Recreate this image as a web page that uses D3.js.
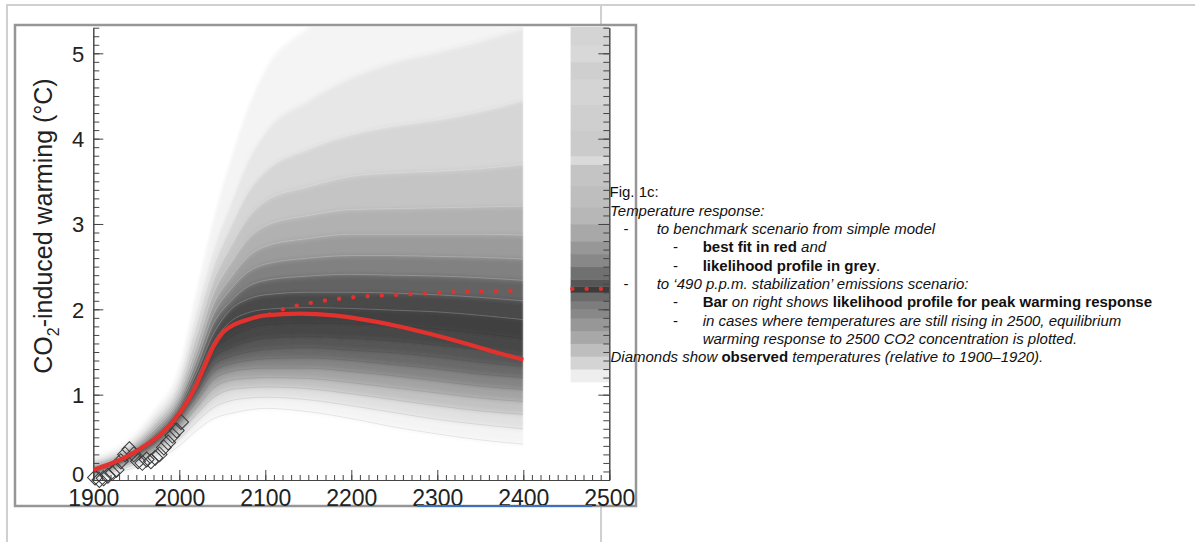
<!DOCTYPE html>
<html>
<head>
<meta charset="utf-8">
<script src="https://cdn.jsdelivr.net/npm/d3@7"></script>
<style>
  html, body { margin: 0; padding: 0; background: #fff; }
  svg { display: block; font-family: "Liberation Sans", Arial, Helvetica, sans-serif; }
  .note { font-size: 15px; fill: #111; }
  .ax text { font-size: 22px; fill: #222; font-family: "Liberation Sans", Arial, sans-serif; }
  .ax path, .ax line { stroke: #444; }
</style>
</head>
<body>
<div id="chart"></div>
<script>
(function(){
  // anchor years of the ensemble quantile curves
  var anchorYears = [1900, 1940, 1970, 2000, 2020, 2040, 2060, 2080, 2100, 2150, 2200, 2250, 2300, 2350, 2400];

  // one row per anchor year: 19 ensemble curve values (degC), low to high
  var ensembleQuantiles = [
    [0.00, 0.02, 0.04, 0.06, 0.08, 0.09, 0.10, 0.11, 0.12, 0.13, 0.14, 0.15, 0.16, 0.17, 0.18, 0.20, 0.22, 0.24, 0.27],
    [0.12, 0.15, 0.18, 0.20, 0.22, 0.24, 0.25, 0.26, 0.27, 0.29, 0.30, 0.31, 0.32, 0.33, 0.35, 0.37, 0.39, 0.42, 0.46],
    [0.22, 0.27, 0.31, 0.35, 0.38, 0.41, 0.43, 0.45, 0.47, 0.49, 0.51, 0.53, 0.55, 0.58, 0.61, 0.65, 0.69, 0.74, 0.80],
    [0.40, 0.48, 0.55, 0.61, 0.66, 0.70, 0.73, 0.76, 0.79, 0.82, 0.85, 0.88, 0.92, 0.96, 1.01, 1.07, 1.14, 1.22, 1.32],
    [0.58, 0.68, 0.77, 0.85, 0.92, 0.98, 1.03, 1.08, 1.13, 1.19, 1.25, 1.32, 1.40, 1.48, 1.58, 1.70, 1.84, 2.00, 2.20],
    [0.72, 0.85, 0.97, 1.08, 1.18, 1.27, 1.35, 1.43, 1.52, 1.62, 1.72, 1.84, 1.95, 2.07, 2.20, 2.35, 2.52, 2.72, 3.05],
    [0.78, 0.93, 1.06, 1.17, 1.27, 1.36, 1.45, 1.55, 1.68, 1.86, 2.00, 2.10, 2.24, 2.38, 2.55, 2.75, 2.98, 3.25, 3.75],
    [0.82, 0.96, 1.08, 1.19, 1.30, 1.40, 1.50, 1.62, 1.77, 1.96, 2.12, 2.27, 2.44, 2.62, 2.83, 3.08, 3.38, 3.75, 4.35],
    [0.84, 0.97, 1.09, 1.20, 1.31, 1.42, 1.53, 1.66, 1.82, 2.00, 2.17, 2.34, 2.53, 2.74, 2.98, 3.27, 3.62, 4.08, 4.80],
    [0.80, 0.94, 1.07, 1.19, 1.31, 1.43, 1.55, 1.68, 1.84, 2.02, 2.20, 2.39, 2.60, 2.83, 3.10, 3.44, 3.88, 4.45, 5.30],
    [0.72, 0.87, 1.01, 1.14, 1.27, 1.40, 1.52, 1.66, 1.83, 2.01, 2.20, 2.41, 2.63, 2.88, 3.17, 3.56, 4.05, 4.72, 5.70],
    [0.62, 0.79, 0.94, 1.08, 1.22, 1.35, 1.49, 1.63, 1.81, 1.99, 2.19, 2.40, 2.63, 2.88, 3.18, 3.60, 4.15, 4.90, 6.00],
    [0.54, 0.71, 0.87, 1.02, 1.16, 1.30, 1.44, 1.58, 1.77, 1.97, 2.17, 2.39, 2.62, 2.88, 3.19, 3.62, 4.22, 5.02, 6.20],
    [0.47, 0.65, 0.81, 0.96, 1.10, 1.24, 1.38, 1.53, 1.72, 1.93, 2.14, 2.37, 2.61, 2.88, 3.20, 3.65, 4.32, 5.15, 6.30],
    [0.42, 0.60, 0.77, 0.92, 1.06, 1.20, 1.33, 1.47, 1.66, 1.88, 2.10, 2.34, 2.59, 2.87, 3.21, 3.70, 4.45, 5.30, 6.40]
  ];

  // relative likelihood of the 18 bands between neighbouring curves
  var bandLikelihood = [0.05, 0.14, 0.28, 0.42, 0.56, 0.68, 0.78, 0.85, 0.88, 0.84, 0.72, 0.58, 0.46, 0.36, 0.27, 0.19, 0.11, 0.05];

  // best fit (red)
  var bestFitYears  = [1900, 1920, 1940, 1960, 1980, 2000, 2010, 2020, 2030, 2040, 2050, 2060, 2080, 2100, 2140, 2180, 2220, 2260, 2300, 2340, 2370, 2400];
  var bestFitValues = [0.12, 0.19, 0.28, 0.40, 0.55, 0.78, 0.93, 1.12, 1.35, 1.57, 1.72, 1.80, 1.88, 1.93, 1.95, 1.93, 1.87, 1.79, 1.69, 1.58, 1.49, 1.41];

  // 490 ppm stabilization scenario (red dots)
  var stabYears  = [2105, 2120, 2150, 2200, 2250, 2300, 2350, 2390];
  var stabValues = [1.94, 2.00, 2.07, 2.14, 2.17, 2.195, 2.21, 2.22];

  // peak warming bar
  var peakYears = [2455, 2500];
  var peakBestFit = 2.24;
  var peakLevels = [1.15, 1.30, 1.45, 1.60, 1.75, 1.90, 2.00, 2.10, 2.20, 2.27, 2.35, 2.50, 2.65, 2.80, 3.00, 3.20, 3.45, 3.70, 3.80, 4.10, 4.40, 4.70, 4.90, 5.10, 5.40];
  var peakLikelihood = [0.08, 0.20, 0.30, 0.40, 0.48, 0.55, 0.60, 0.68, 0.90, 0.78, 0.66, 0.55, 0.48, 0.40, 0.33, 0.30, 0.27, 0.17, 0.24, 0.22, 0.20, 0.22, 0.18, 0.20];

  // observed temperatures (diamonds)
  var obsYears  = [1902, 1907, 1912, 1917, 1922, 1927, 1932, 1937, 1942, 1947, 1952, 1957, 1962, 1967, 1972, 1977, 1982, 1987, 1992, 1997, 2002];
  var obsValues = [0.03, 0.00, 0.02, 0.05, 0.08, 0.12, 0.22, 0.30, 0.36, 0.30, 0.22, 0.20, 0.24, 0.22, 0.26, 0.30, 0.38, 0.44, 0.52, 0.58, 0.68];

  var xTicks = [1900, 2000, 2100, 2200, 2300, 2400, 2500];
  var yTicks = [0, 1, 2, 3, 4, 5];

  var W = 1195, H = 542;
  var svg = d3.select('#chart').append('svg').attr('width', W).attr('height', H);

  // page cell borders
  svg.append('path')
    .attr('d', 'M7,542 V5 H1195 M601,5 V542')
    .attr('fill', 'none').attr('stroke', '#d0d0d0').attr('stroke-width', 2);

  // image frame
  svg.append('rect')
    .attr('x', 15).attr('y', 25).attr('width', 621).attr('height', 481)
    .attr('fill', '#fff').attr('stroke', '#969696').attr('stroke-width', 2.5);

  var x = d3.scaleLinear().domain([1900, 2500]).range([93.3, 609.3]);
  var y = d3.scaleLinear().domain([0, 5.3]).range([480, 27.7]);
  var grey = d3.scaleLinear().domain([0, 1]).range(['#ffffff', '#262626']);

  var defs = svg.append('defs');
  defs.append('clipPath').attr('id', 'clipEns').append('rect')
    .attr('x', x(1900)).attr('y', 27).attr('width', x(2400) - x(1900)).attr('height', 480 - 27);
  defs.append('clipPath').attr('id', 'clipBar').append('rect')
    .attr('x', x(2450)).attr('y', 27).attr('width', x(2500) - x(2450)).attr('height', 480 - 27);
  defs.append('filter').attr('id', 'soft')
    .attr('x', '-5%').attr('y', '-5%').attr('width', '110%').attr('height', '110%')
    .append('feGaussianBlur').attr('stdDeviation', '1.2 2.4');

  // ensemble bands
  var nCurves = ensembleQuantiles[0].length;
  var curves = d3.range(nCurves).map(function(k) {
    return anchorYears.map(function(yr, i) { return {year: yr, v: ensembleQuantiles[i][k]}; });
  });

  var area = d3.area()
    .x(function(d) { return x(d.year); })
    .y0(function(d) { return y(d.lo); })
    .y1(function(d) { return y(d.hi); })
    .curve(d3.curveMonotoneX);

  var ens = svg.append('g').attr('clip-path', 'url(#clipEns)');
  var ensSoft = ens.append('g').attr('filter', 'url(#soft)');
  bandLikelihood.forEach(function(p, k) {
    var band = anchorYears.map(function(yr, i) {
      return {year: yr, lo: ensembleQuantiles[i][k], hi: ensembleQuantiles[i][k + 1]};
    });
    ensSoft.append('path')
      .attr('d', area(band))
      .attr('fill', grey(p))
      .attr('stroke', grey(p))
      .attr('stroke-width', 0.6);
  });

  var line = d3.line()
    .x(function(d) { return x(d.year); })
    .y(function(d) { return y(d.v); })
    .curve(d3.curveMonotoneX);

  // streaks along the ensemble members
  ens.selectAll('path.streak')
    .data(curves)
    .enter().append('path')
    .attr('class', 'streak')
    .attr('d', line)
    .attr('fill', 'none')
    .attr('stroke', function(d, k) { return k < 9 ? '#000' : '#fff'; })
    .attr('stroke-opacity', function(d, k) { return k < 9 ? 0.12 : 0.3; })
    .attr('stroke-width', 0.7);

  // peak warming bar
  var bar = svg.append('g').attr('clip-path', 'url(#clipBar)');
  peakLikelihood.forEach(function(p, k) {
    bar.append('rect')
      .attr('x', x(peakYears[0]))
      .attr('width', x(peakYears[1]) - x(peakYears[0]))
      .attr('y', y(peakLevels[k + 1]))
      .attr('height', y(peakLevels[k]) - y(peakLevels[k + 1]) + 0.5)
      .attr('fill', grey(p));
  });

  // axes
  var gL = svg.append('g').attr('class', 'ax').attr('transform', 'translate(' + x(1900) + ',0)');
  gL.call(d3.axisLeft(y).tickValues(d3.range(0, 5.31, 0.1)).tickSizeInner(-6).tickSizeOuter(0).tickFormat(''));
  gL.append('g').call(d3.axisLeft(y).tickValues(yTicks).tickSizeInner(-10).tickSizeOuter(0).tickPadding(9).tickFormat(d3.format('d')));
  gL.selectAll('.tick text').attr('dy', function(d) { return d === 0 ? '0.08em' : '0.36em'; });
  gL.selectAll('.domain').attr('stroke', '#999');

  var gR = svg.append('g').attr('class', 'ax').attr('transform', 'translate(' + x(2500) + ',0)');
  gR.call(d3.axisRight(y).tickValues(d3.range(0, 5.31, 0.1)).tickSizeInner(-6).tickSizeOuter(0).tickFormat(''));
  gR.append('g').call(d3.axisRight(y).tickValues(yTicks).tickSizeInner(-11).tickSizeOuter(0).tickFormat(''));
  gR.selectAll('.domain').attr('stroke', '#777');

  var gB = svg.append('g').attr('class', 'ax').attr('transform', 'translate(0,' + y(0) + ')');
  gB.call(d3.axisBottom(x).tickValues(d3.range(1900, 2501, 10)).tickSizeInner(-5).tickSizeOuter(0).tickFormat(''));
  gB.append('g').call(d3.axisBottom(x).tickValues(xTicks).tickSizeInner(-10).tickSizeOuter(0).tickPadding(10).tickFormat(d3.format('d')));
  gB.selectAll('.tick text').style('font-size', '23px');

  // observed diamonds
  var diamond = d3.symbol().type(d3.symbolSquare).size(112);
  svg.append('g').selectAll('path')
    .data(obsYears)
    .enter().append('path')
    .attr('d', diamond)
    .attr('transform', function(d, i) { return 'translate(' + x(d) + ',' + y(obsValues[i]) + ') rotate(45)'; })
    .attr('fill', 'none')
    .attr('stroke', '#3a3a3a')
    .attr('stroke-width', 1);

  // best fit
  svg.append('path')
    .datum(bestFitYears.map(function(yr, i) { return {year: yr, v: bestFitValues[i]}; }))
    .attr('d', line)
    .attr('fill', 'none')
    .attr('stroke', '#e3312d')
    .attr('stroke-width', 4.2);

  // stabilization dots
  var dotStyle = function(sel) {
    sel.attr('fill', 'none').attr('stroke', '#e3312d').attr('stroke-width', 4.4)
      .attr('stroke-linecap', 'round').attr('stroke-dasharray', '0 14.3');
  };
  svg.append('path')
    .datum(stabYears.map(function(yr, i) { return {year: yr, v: stabValues[i]}; }))
    .attr('d', line).call(dotStyle);
  svg.append('path')
    .datum(peakYears.map(function(yr) { return {year: yr + 2, v: peakBestFit}; }))
    .attr('d', line).call(dotStyle);

  // y title
  var yt = svg.append('text')
    .attr('transform', 'translate(52,226) rotate(-90)')
    .attr('text-anchor', 'middle')
    .style('font-size', '25px')
    .attr('fill', '#222');
  yt.append('tspan').text('CO');
  yt.append('tspan').text('2').style('font-size', '16px').attr('dy', 7);
  yt.append('tspan').text('-induced warming (°C)').attr('dy', -7);

  // blue underline
  svg.append('line')
    .attr('x1', 417).attr('x2', 592).attr('y1', 506).attr('y2', 506)
    .attr('stroke', '#3d6fc0').attr('stroke-width', 2);

  // caption
  var notes = [
    {x: 609.5, parts: [['Fig. 1c:', 'n']]},
    {x: 610, parts: [['Temperature response:', 'i']]},
    {x: 656.7, dash: 623.5, parts: [['to benchmark scenario from simple model', 'i']]},
    {x: 702.7, dash: 673, parts: [['best fit in red', 'b'], [' and', 'i']]},
    {x: 702.7, dash: 673, parts: [['likelihood profile in grey', 'b'], ['.', 'n']]},
    {x: 656.7, dash: 623.5, parts: [['to \u2018490 p.p.m. stabilization\u2019 emissions scenario:', 'i']]},
    {x: 702.7, dash: 673, parts: [['Bar', 'b'], [' on right shows ', 'i'], ['likelihood profile for peak warming response', 'b']]},
    {x: 702.7, dash: 673, parts: [['in cases where temperatures are still rising in 2500, equilibrium', 'i']]},
    {x: 702.7, parts: [['warming response to 2500 CO2 concentration is plotted.', 'i']]},
    {x: 610.5, parts: [['Diamonds show ', 'i'], ['observed', 'b'], [' temperatures (relative to 1900\u20131920).', 'i']]}
  ];
  var g = svg.append('g').attr('class', 'note');
  notes.forEach(function(n, i) {
    var by = 197.3 + i * 18.33;
    if (n.dash) {
      g.append('text').attr('class', 'note').attr('x', n.dash).attr('y', by).text('-');
    }
    var t = g.append('text').attr('class', 'note').attr('x', n.x).attr('y', by);
    n.parts.forEach(function(p) {
      t.append('tspan').text(p[0])
        .style('font-style', p[1] === 'i' ? 'italic' : 'normal')
        .style('font-weight', p[1] === 'b' ? 'bold' : 'normal');
    });
  });
})();
</script>
</body>
</html>
